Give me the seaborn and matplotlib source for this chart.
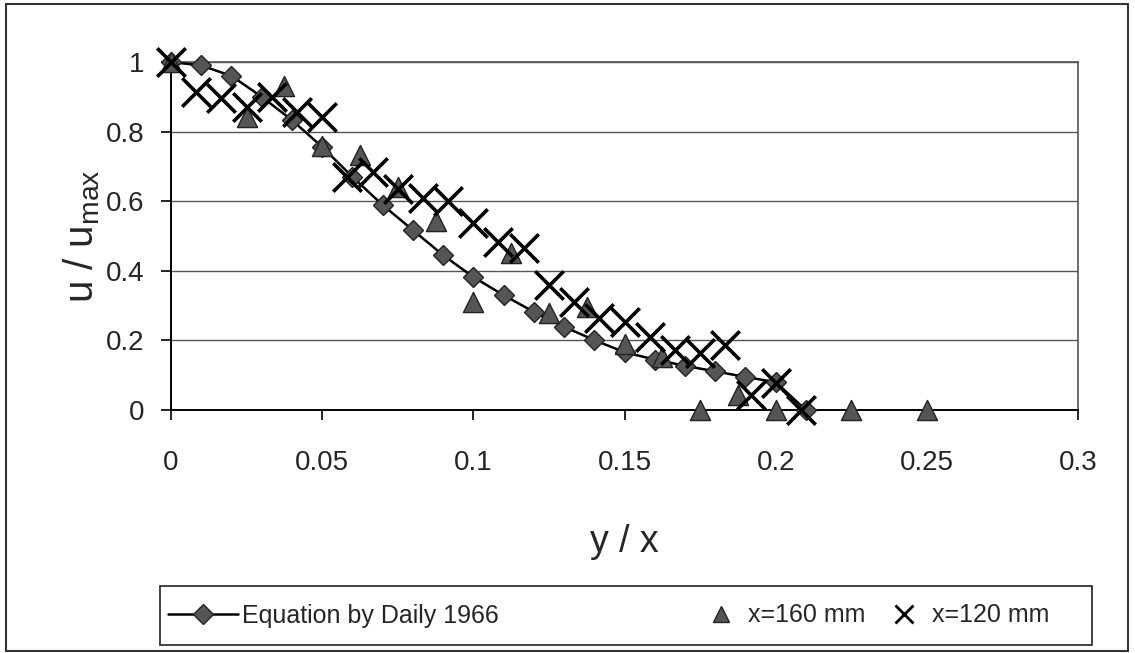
import matplotlib
matplotlib.use("Agg")
import matplotlib.pyplot as plt
import seaborn as sns
import pandas as pd
from matplotlib.patches import Rectangle
from matplotlib.lines import Line2D

# ---- data ----
eq_x = [0.0, 0.01, 0.02, 0.03, 0.04, 0.05, 0.06, 0.07, 0.08, 0.09, 0.10,
        0.11, 0.12, 0.13, 0.14, 0.15, 0.16, 0.17, 0.18, 0.19, 0.20, 0.21]
eq_y = [1.0, 0.99, 0.96, 0.90, 0.833, 0.756, 0.67, 0.589, 0.517, 0.445, 0.382,
        0.33, 0.282, 0.239, 0.201, 0.166, 0.145, 0.127, 0.111, 0.095, 0.08, 0.0]

t160_x = [0.0, 0.025, 0.0375, 0.05, 0.0625, 0.075, 0.0875, 0.1, 0.1125, 0.125,
          0.1375, 0.15, 0.1625, 0.175, 0.1875, 0.2, 0.225, 0.25]
t160_y = [1.0, 0.843, 0.93, 0.76, 0.733, 0.642, 0.543, 0.311, 0.45, 0.278,
          0.295, 0.19, 0.153, 0.0, 0.043, 0.0, 0.0, 0.0]

x120_x = [0.0, 0.0083, 0.0167, 0.025, 0.0333, 0.0417, 0.05, 0.0583, 0.0667,
          0.075, 0.0833, 0.0917, 0.1, 0.1083, 0.1167, 0.125, 0.1333, 0.1417,
          0.15, 0.1583, 0.1667, 0.175, 0.1833, 0.1917, 0.2, 0.2083]
x120_y = [1.0, 0.915, 0.896, 0.872, 0.9, 0.857, 0.843, 0.67, 0.685,
          0.635, 0.609, 0.6, 0.536, 0.484, 0.465, 0.36, 0.311, 0.265,
          0.254, 0.21, 0.172, 0.165, 0.187, 0.043, 0.077, 0.0]

labels = ["Equation by Daily 1966", "x=160 mm", "x=120 mm"]
x_ticks = [0, 0.05, 0.1, 0.15, 0.2, 0.25, 0.3]
y_ticks = [0, 0.2, 0.4, 0.6, 0.8, 1.0]

sns.set_theme(style="white")
plt.rcParams['font.family'] = ['Liberation Sans', 'DejaVu Sans']

W, H = 1135, 653
fig = plt.figure(figsize=(W / 100, H / 100), dpi=100)
fig.patch.set_facecolor("white")
ax = fig.add_axes([171 / W, 1 - 410 / H, (1078 - 171) / W, (410 - 62) / H])

df_eq = pd.DataFrame({"x": eq_x, "y": eq_y})
df_160 = pd.DataFrame({"x": t160_x, "y": t160_y})
df_120 = pd.DataFrame({"x": x120_x, "y": x120_y})

for yv in y_ticks[1:]:
    ax.axhline(yv, color="#555555", lw=1.0, zorder=0)

sns.lineplot(data=df_eq, x="x", y="y", ax=ax, color="black", lw=1.8,
             marker="D", markersize=10, markerfacecolor="#555555",
             markeredgecolor="#222222", markeredgewidth=1.0, clip_on=False,
             zorder=3, sort=False, legend=False)
sns.scatterplot(data=df_160, x="x", y="y", ax=ax, marker="^", s=210,
                color="#555555", edgecolor="#222222", linewidth=1.0,
                clip_on=False, zorder=4, legend=False)
sns.scatterplot(data=df_120, x="x", y="y", ax=ax, marker="x", s=420,
                color="black", linewidth=2.6, clip_on=False, zorder=5,
                legend=False)

ax.set_xlim(0, 0.3)
ax.set_ylim(0, 1)
ax.set_xticks(x_ticks)
ax.set_yticks(y_ticks)
ax.set_xticklabels(["0", "0.05", "0.1", "0.15", "0.2", "0.25", "0.3"])
ax.set_yticklabels(["0", "0.2", "0.4", "0.6", "0.8", "1"])
ax.tick_params(axis="both", labelsize=20, length=7, width=1.2,
               direction="out", color="black", bottom=True, left=True)
ax.tick_params(axis="x", pad=22)
ax.tick_params(axis="y", pad=12)
for side in ["top", "right"]:
    ax.spines[side].set_color("#555555")
    ax.spines[side].set_linewidth(1.2)
for side in ["left", "bottom"]:
    ax.spines[side].set_color("black")
    ax.spines[side].set_linewidth(1.4)

ax.set_xlabel("y / x", fontsize=27, labelpad=34)
ax.set_ylabel(r"u / u$_{\mathregular{max}}$", fontsize=29, labelpad=3)

# legend: box plus three entries positioned like the original
box_l, box_r, box_t, box_b = 160, 1092, 586, 645
fig.patches.append(Rectangle((box_l / W, 1 - box_b / H), (box_r - box_l) / W,
                             (box_b - box_t) / H, transform=fig.transFigure,
                             fill=False, edgecolor="#222222", lw=1.2))
ycen = 1 - ((box_t + box_b) / 2) / H
entries = [
    (Line2D([], [], color="black", lw=1.8, marker="D", markersize=10,
            markerfacecolor="#555555", markeredgecolor="#222222"),
     labels[0], 168, 2.8, 0.15),
    (Line2D([], [], ls="none", marker="^", markersize=11,
            markerfacecolor="#555555", markeredgecolor="#222222"),
     labels[1], 707, 1.1, 0.55),
    (Line2D([], [], ls="none", marker="x", markersize=13, color="black",
            markeredgewidth=2.0),
     labels[2], 890, 1.1, 0.6),
]
for h, lab, xl, hl, tp in entries:
    fig.legend([h], [lab], loc="center left", bbox_to_anchor=(xl / W, ycen),
               fontsize=18, frameon=False, handlelength=hl,
               handletextpad=tp, borderpad=0, borderaxespad=0)

fig.patches.append(Rectangle((6 / W, 2 / H), (1128 - 6) / W,
                             (651 - 4) / H, transform=fig.transFigure,
                             fill=False, edgecolor="#333333", lw=1.5))

fig.savefig("out.png", dpi=100)
